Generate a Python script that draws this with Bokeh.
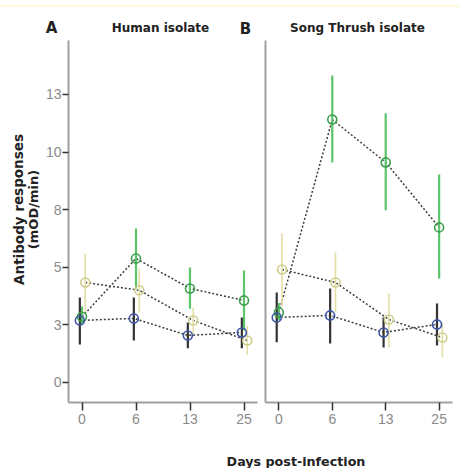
from bokeh.plotting import figure
from bokeh.models import Range1d, FixedTicker, Label, ColumnDataSource
from bokeh.layouts import row, column
from bokeh.transform import dodge
from bokeh.embed import file_html
from bokeh.resources import INLINE

# ---------------- data ----------------
days = ["0", "6", "13", "25"]
y_ticks = [0, 2.5, 5, 7.5, 10, 12.5]
y_tick_labels = ["0", "3", "5", "8", "10", "13"]

# Panel A: Human isolate
a_green = [2.85, 5.38, 4.08, 3.56]
a_green_lo = [2.50, 4.08, 3.20, 2.26]
a_green_hi = [3.30, 6.68, 4.99, 4.86]
a_yellow = [4.34, 4.00, 2.69, 1.82]
a_yellow_lo = [3.05, 3.05, 2.10, 1.20]
a_yellow_hi = [5.60, 4.95, 3.25, 2.45]
a_blue = [2.69, 2.78, 2.04, 2.17]
a_blue_lo = [1.65, 1.82, 1.48, 1.48]
a_blue_hi = [3.69, 3.69, 2.60, 2.82]

# Panel B: Song Thrush isolate
b_green = [3.04, 11.41, 9.55, 6.73]
b_green_lo = [2.70, 9.55, 7.47, 4.51]
b_green_hi = [3.45, 13.32, 11.68, 9.03]
b_yellow = [4.90, 4.34, 2.73, 1.95]
b_yellow_lo = [3.30, 3.05, 1.52, 1.08]
b_yellow_hi = [6.47, 5.64, 3.86, 2.60]
b_blue = [2.82, 2.91, 2.17, 2.52]
b_blue_lo = [1.74, 1.69, 1.52, 1.60]
b_blue_hi = [3.90, 4.08, 2.82, 3.43]

GREEN_BAR = "#5cc46a"
GREEN_PT = "#3f9e50"
BLUE_BAR = "#333333"
BLUE_PT = "#3e56a8"
YEL_BAR = "#e3dfa6"
YEL_PT = "#cfcc8e"
DASH = "#3c3c3c"
AXIS = "#a0a0a0"
TICKLBL = "#8a8a8a"
TITLE_FONT = "DejaVu Sans"
BAND = "#fefbc9"

xidx = list(range(len(days)))
FRAME_H = 362
ROW_H = 400


def make_panel(series, left_border, right_border, frame_w, show_y):
    p = figure(frame_width=frame_w, frame_height=FRAME_H,
               min_border_left=left_border, min_border_right=right_border,
               min_border_top=0, min_border_bottom=ROW_H - FRAME_H,
               x_range=Range1d(-0.25, 3.25), y_range=Range1d(-0.87, 14.84),
               output_backend="svg", toolbar_location=None)
    p.outline_line_color = None
    p.grid.visible = False

    xa = p.xaxis[0]
    xa.ticker = FixedTicker(ticks=xidx)
    xa.major_label_overrides = {i: d for i, d in zip(xidx, days)}
    xa.minor_tick_line_color = None
    xa.major_tick_out = 8
    xa.major_tick_in = 0
    xa.major_tick_line_color = "#333333"
    xa.major_tick_line_width = 1.5
    xa.axis_line_color = AXIS
    xa.axis_line_width = 2
    xa.major_label_text_color = TICKLBL
    xa.major_label_text_font = "Liberation Sans"
    xa.major_label_text_font_size = "14px"
    xa.major_label_standoff = 3

    ya = p.yaxis[0]
    ya.axis_line_color = AXIS
    ya.axis_line_width = 2
    ya.minor_tick_line_color = None
    if show_y:
        ya.ticker = FixedTicker(ticks=y_ticks)
        ya.major_label_overrides = {t: l for t, l in zip(y_ticks, y_tick_labels)}
        ya.major_tick_out = 6
        ya.major_tick_in = 0
        ya.major_tick_line_color = "#333333"
        ya.major_tick_line_width = 1.5
        ya.major_label_text_color = TICKLBL
        ya.major_label_text_font = "Liberation Sans"
        ya.major_label_text_font_size = "14px"
        ya.major_label_standoff = 1
    else:
        ya.ticker = FixedTicker(ticks=[])
        ya.major_tick_out = 0
        ya.major_tick_in = 0
        ya.major_tick_line_color = None
        ya.major_label_text_font_size = "0px"
        ya.major_label_standoff = 0

    srcs = []
    for vals, lo, hi, bc, pc, dx, bw in series:
        src = ColumnDataSource(dict(x=xidx, y=vals, lo=lo, hi=hi))
        srcs.append((src, bc, pc, dx, bw))
    for src, bc, pc, dx, bw in srcs:
        p.line(x=dodge("x", dx), y="y", source=src, line_color=DASH,
               line_dash="2 2", line_width=1.5)
    for src, bc, pc, dx, bw in srcs:
        p.segment(x0=dodge("x", dx), y0="lo", x1=dodge("x", dx), y1="hi",
                  source=src, line_color=bc, line_width=bw)
    for src, bc, pc, dx, bw in srcs:
        p.scatter(x=dodge("x", dx), y="y", source=src, marker="circle",
                  size=9, fill_color=None, line_color=pc, line_width=1.6)
    return p


series_a = [
    (a_yellow, a_yellow_lo, a_yellow_hi, YEL_BAR, YEL_PT, 0.06, 1.6),
    (a_green, a_green_lo, a_green_hi, GREEN_BAR, GREEN_PT, 0.0, 2.2),
    (a_blue, a_blue_lo, a_blue_hi, BLUE_BAR, BLUE_PT, -0.04, 2.2),
]
series_b = [
    (b_yellow, b_yellow_lo, b_yellow_hi, YEL_BAR, YEL_PT, 0.06, 1.6),
    (b_green, b_green_lo, b_green_hi, GREEN_BAR, GREEN_PT, 0.0, 2.2),
    (b_blue, b_blue_lo, b_blue_hi, BLUE_BAR, BLUE_PT, -0.04, 2.2),
]

YLAB_W = 42
pA = make_panel(series_a, 66 - YLAB_W, 4, 189, True)
pB = make_panel(series_b, 4, 10, 187, False)


def blank(w, h, bg="white"):
    f = figure(width=w, height=h, min_border=0, x_axis_type=None,
               y_axis_type=None, x_range=Range1d(0, 1), y_range=Range1d(0, 1),
               output_backend="svg", toolbar_location=None)
    f.outline_line_color = None
    f.grid.visible = False
    f.background_fill_color = bg
    f.border_fill_color = bg
    return f


def lab(p, text, sx, sy, size, angle=0, bold=True, color="#222222"):
    p.add_layout(Label(x=sx, y=sy, x_units="screen", y_units="screen",
                       text=text, text_font=TITLE_FONT,
                       text_font_size=size,
                       text_font_style="bold" if bold else "normal",
                       text_color=color, text_align="center",
                       text_baseline="middle", angle=angle))


band = blank(460, 7, BAND)

header = blank(460, 33)
lab(header, "A", 51, 13, "15px")
lab(header, "Human isolate", 160, 13, "12px")
lab(header, "B", 245, 12, "15px")
lab(header, "Song Thrush isolate", 357, 13, "12px")

ylab = blank(YLAB_W, ROW_H)
lab(ylab, "Antibody responses", 18, 193, "13.5px", angle=1.5708)
lab(ylab, "(mOD/min)", 33, 193, "13px", angle=1.5708)

pL = blank(460, 28)
lab(pL, "Days post-infection", 295.5, 7, "12.7px")

layout = column(band, header, row(ylab, pA, pB), pL)

open("out.html", "w").write(file_html(layout, INLINE))
